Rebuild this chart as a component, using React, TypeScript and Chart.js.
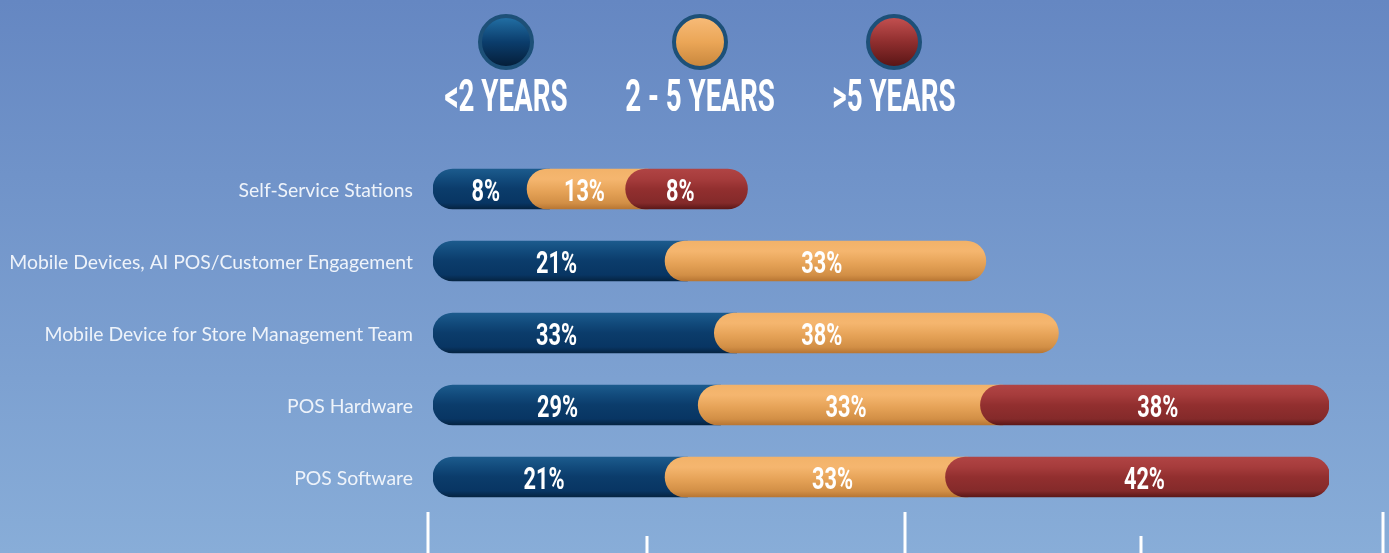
import { useEffect, useRef } from "react";
import { Chart, registerables } from "chart.js";

Chart.register(...registerables);

// ---- data ----
const categories = [
  "Self-Service Stations",
  "Mobile Devices, AI POS/Customer Engagement",
  "Mobile Device for Store Management Team",
  "POS Hardware",
  "POS Software",
];
const seriesNames = ["<2 YEARS", "2 - 5 YEARS", ">5 YEARS"];
// drawn segment lengths (share of the full bar length, as shown in the graphic)
const under2: number[] = [10.5, 25.9, 31.4, 29.6, 25.9];
const from2to5: number[] = [11.0, 35.8, 38.4, 31.5, 31.3];
const over5: (number | null)[] = [13.6, null, null, 38.9, 42.9];
// printed percentages
const under2Labels = ["8%", "21%", "33%", "29%", "21%"];
const from2to5Labels = ["13%", "33%", "38%", "33%", "33%"];
const over5Labels: (string | null)[] = ["8%", null, null, "38%", "42%"];

// ---- layout / styles (not data) ----
// where the printed labels sit along the value axis (axis units)
const under2LabelAt = [5.9, 13.8, 13.8, 13.9, 12.4];
const from2to5LabelAt = [16.9, 43.4, 43.4, 46.1, 44.6];
const over5LabelAt: (number | null)[] = [27.6, null, null, 80.9, 79.4];
// decorative scale marks under the bars (axis units)
const bottomMarks = [-0.6, 23.9, 52.7, 79.0, 106.0];
const bottomMarkTall = [true, false, true, false, true];

const BAR_H = 40;
const RADIUS = 20;
const OVERLAP = 2.5;
const gradStops: [number, string][][] = [
  [
    [0, "#1c5b8d"],
    [0.25, "#124b7c"],
    [0.5, "#0b3c6b"],
    [0.85, "#083563"],
    [1, "#052442"],
  ],
  [
    [0, "#f2b269"],
    [0.25, "#f5b66f"],
    [0.55, "#e6a358"],
    [0.85, "#d28f46"],
    [1, "#b87633"],
  ],
  [
    [0, "#b04444"],
    [0.25, "#a63c3c"],
    [0.5, "#922f2f"],
    [0.85, "#842a2a"],
    [1, "#5c1818"],
  ],
];
const legendStops: [number, string][][] = [
  [
    [0, "#2372a8"],
    [0.5, "#0b3d6c"],
    [1, "#041c36"],
  ],
  [
    [0, "#f8bc7a"],
    [0.5, "#eba657"],
    [1, "#c6853b"],
  ],
  [
    [0, "#c65252"],
    [0.5, "#8f2e2e"],
    [1, "#561414"],
  ],
];

function makeGradient(c: CanvasRenderingContext2D, y0: number, y1: number, stops: [number, string][]) {
  const g = c.createLinearGradient(0, y0, 0, y1);
  stops.forEach(([o, col]) => g.addColorStop(o, col));
  return g;
}

function barFill(di: number) {
  return (ctx: any) => {
    const chart = ctx.chart;
    const ys = chart.scales && chart.scales.y;
    if (ctx.dataIndex === undefined || !ys || !chart.chartArea) return gradStops[di][2][1];
    const c = ys.getPixelForValue(ctx.dataIndex);
    return makeGradient(chart.ctx, c - BAR_H / 2, c + BAR_H / 2, gradStops[di]);
  };
}

function drawCondensed(
  c: CanvasRenderingContext2D,
  text: string,
  x: number,
  baseline: number,
  size: number,
  sx: number
) {
  c.save();
  c.translate(x, baseline);
  c.scale(sx, 1);
  c.font = `bold ${size}px Roboto, "DejaVu Sans", sans-serif`;
  c.textAlign = "center";
  c.textBaseline = "alphabetic";
  c.fillStyle = "#ffffff";
  c.fillText(text, 0, 0);
  c.restore();
}

const decorPlugin = {
  id: "decor",
  beforeDraw(chart: any) {
    const c = chart.ctx as CanvasRenderingContext2D;
    c.save();
    c.fillStyle = makeGradient(c, 0, chart.height, [
      [0, "#6587c2"],
      [1, "#88add8"],
    ]);
    c.fillRect(0, 0, chart.width, chart.height);
    c.restore();
  },
  afterDatasetsDraw(chart: any) {
    const c = chart.ctx as CanvasRenderingContext2D;
    const xs = chart.scales.x;
    const ys = chart.scales.y;

    // segment labels
    categories.forEach((_, i) => {
      const cy = ys.getPixelForValue(i);
      const base = cy + 11.5;
      drawCondensed(c, under2Labels[i], xs.getPixelForValue(under2LabelAt[i]), base, 32, 0.68);
      drawCondensed(c, from2to5Labels[i], xs.getPixelForValue(from2to5LabelAt[i]), base, 32, 0.68);
      const rl = over5Labels[i];
      const ra = over5LabelAt[i];
      if (over5[i] != null && rl && ra != null) {
        drawCondensed(c, rl, xs.getPixelForValue(ra), base, 32, 0.68);
      }
    });

    // legend
    const mid = 700;
    const step = 194;
    seriesNames.forEach((name, k) => {
      const x = mid + (k - 1) * step;
      const cy = 42;
      c.save();
      c.beginPath();
      c.arc(x, cy, 26, 0, Math.PI * 2);
      c.fillStyle = makeGradient(c, cy - 26, cy + 26, legendStops[k]);
      c.fill();
      c.lineWidth = 4;
      c.strokeStyle = "#1d5078";
      c.stroke();
      c.restore();
      drawCondensed(c, name, x, 111, 44, 0.63);
    });

    // bottom marks
    c.save();
    c.fillStyle = "#ffffff";
    bottomMarks.forEach((v, k) => {
      const x = xs.getPixelForValue(v);
      const top = bottomMarkTall[k] ? chart.height - 41 : chart.height - 17;
      c.fillRect(Math.round(x) - 1.5, top, 3, chart.height - top);
    });
    c.restore();
  },
};

export default function App() {
  const ref = useRef<HTMLCanvasElement>(null);
  useEffect(() => {
    document.body.style.margin = "0";
    if (!ref.current) return;
    const blueData = under2.map((v) => [0, v + OVERLAP]);
    const orangeData = from2to5.map((v, i) => [
      under2[i],
      under2[i] + v + (over5[i] != null ? OVERLAP : 0),
    ]);
    const redData = over5.map((v, i) =>
      v == null ? null : [under2[i] + from2to5[i], under2[i] + from2to5[i] + v]
    );
    const full = { topLeft: RADIUS, bottomLeft: RADIUS, topRight: RADIUS, bottomRight: RADIUS };
    const leftOnly = { topLeft: RADIUS, bottomLeft: RADIUS, topRight: 0, bottomRight: 0 };

    const chart = new Chart(ref.current, {
      type: "bar",
      data: {
        labels: categories,
        datasets: [
          {
            label: seriesNames[0],
            data: blueData as any,
            backgroundColor: barFill(0) as any,
            borderRadius: leftOnly as any,
            borderSkipped: false,
            barThickness: BAR_H,
            grouped: false,
            order: 3,
          } as any,
          {
            label: seriesNames[1],
            data: orangeData as any,
            backgroundColor: barFill(1) as any,
            borderRadius: ((ctx: any) => (over5[ctx.dataIndex] != null ? leftOnly : full)) as any,
            borderSkipped: false,
            barThickness: BAR_H,
            grouped: false,
            order: 2,
          } as any,
          {
            label: seriesNames[2],
            data: redData as any,
            backgroundColor: barFill(2) as any,
            borderRadius: full as any,
            borderSkipped: false,
            barThickness: BAR_H,
            grouped: false,
            order: 1,
          } as any,
        ],
      },
      options: {
        indexAxis: "y",
        responsive: false,
        animation: false,
        layout: { padding: { top: 153, bottom: 40, right: 60, left: 0 } },
        plugins: {
          legend: { display: false },
          tooltip: { enabled: false },
        },
        scales: {
          x: { display: false, min: 0, max: 100 },
          y: {
            grid: { display: false, drawTicks: false },
            border: { display: false },
            ticks: {
              color: "#eef3fa",
              font: { family: "Lato, 'Open Sans', sans-serif", size: 19.4 },
              padding: 20,
              labelOffset: 2,
            },
            afterFit: (s: any) => {
              s.width = 433;
            },
          },
        },
      },
      plugins: [decorPlugin],
    });
    return () => chart.destroy();
  }, []);
  return <canvas ref={ref} width={1389} height={553} style={{ display: "block" }} />;
}
